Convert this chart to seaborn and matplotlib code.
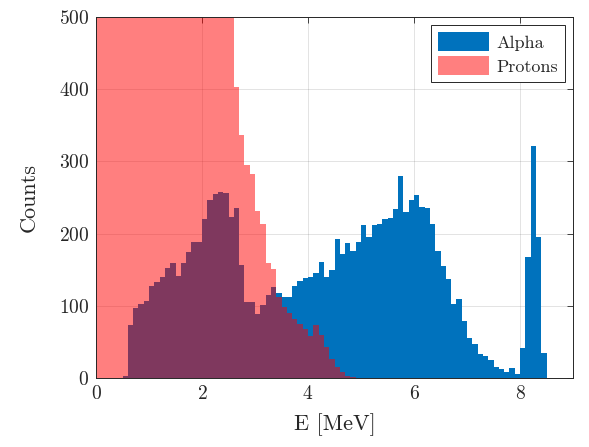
import numpy as np
import pandas as pd
import matplotlib
matplotlib.use("Agg")
import matplotlib.pyplot as plt
from matplotlib.patches import Patch
import seaborn as sns

# ---- data (counts per 0.1 MeV bin) ----
bin_width = 0.1
alpha_start = 0.5
alpha_counts = [3, 74, 97, 102, 107, 128, 133, 140, 153, 159,
                141, 160, 175, 189, 189, 220, 247, 255, 258, 256,
                223, 236, 157, 106, 106, 89, 101, 115, 126, 118,
                112, 112, 128, 135, 139, 140, 145, 161, 140, 150,
                193, 172, 187, 176, 189, 212, 195, 212, 214, 220,
                222, 234, 280, 230, 247, 253, 237, 235, 214, 176,
                155, 137, 102, 109, 79, 56, 47, 33, 31, 25,
                15, 12, 9, 14, 6, 42, 168, 321, 195, 35]
proton_start = 0.0
proton_counts = [820, 1450, 1900, 2100, 2200, 2150, 2050, 1950, 1850, 1750,
                 1650, 1550, 1450, 1350, 1250, 1150, 1050, 950, 880, 800,
                 740, 690, 640, 600, 560, 530, 403, 336, 295, 282,
                 232, 213, 159, 151, 113, 99, 90, 82, 75, 68,
                 58, 73, 60, 43, 27, 16, 9, 3, 1]
labels = ["Alpha", "Protons"]
xticks = [0, 2, 4, 6, 8]
yticks = [0, 100, 200, 300, 400, 500]


def hist_frame(start, counts):
    n = len(counts)
    edges = np.round(start + bin_width * np.arange(n + 1), 6)
    centers = (edges[:-1] + edges[1:]) / 2
    return pd.DataFrame({"E": centers, "w": counts}), [float(e) for e in edges]


df_a, edges_a = hist_frame(alpha_start, alpha_counts)
df_p, edges_p = hist_frame(proton_start, proton_counts)

sns.set_style("white")
plt.rcParams["font.family"] = ["cmr10", "DejaVu Serif"]
plt.rcParams["mathtext.fontset"] = "cm"
plt.rcParams["axes.formatter.use_mathtext"] = True

fig = plt.figure(figsize=(5.89, 4.47), dpi=100)
ax = fig.add_axes([0.163, 0.154, 0.81, 0.808])

blue = "#0072BD"
red = "#FF0000"

sns.histplot(data=df_a, x="E", weights="w", bins=edges_a, element="step",
             fill=True, color=blue, alpha=1.0, linewidth=0, ax=ax)
sns.histplot(data=df_p, x="E", weights="w", bins=edges_p, element="step",
             fill=True, color=red, alpha=0.5, linewidth=0, ax=ax)

ax.set_xlim(0, 9)
ax.set_ylim(0, 500)
ax.set_xticks(xticks)
ax.set_yticks(yticks)
ax.set_xlabel("E [MeV]", fontsize=16, labelpad=7)
ax.set_ylabel("Counts", fontsize=16, labelpad=14)
ax.tick_params(axis="both", which="both", direction="in", length=4,
               width=0.6, labelsize=14, color="#262626", labelcolor="#262626",
               top=True, right=True, pad=5)
ax.set_axisbelow(True)
ax.grid(True, color="#262626", alpha=0.15, linewidth=0.6)
for s in ax.spines.values():
    s.set_visible(True)
    s.set_color("#262626")
    s.set_linewidth(0.7)

handles = [Patch(facecolor=blue, edgecolor="none"),
           Patch(facecolor=red, alpha=0.5, edgecolor="none")]
leg = ax.legend(handles, labels, loc="upper right", fontsize=13,
                frameon=True, fancybox=False, edgecolor="#262626",
                framealpha=1, borderpad=0.4, handlelength=2.8,
                handleheight=1.2, handletextpad=0.4, labelspacing=0.3,
                borderaxespad=0.45)
leg.get_frame().set_linewidth(0.7)

fig.savefig("out.png", dpi=100)
